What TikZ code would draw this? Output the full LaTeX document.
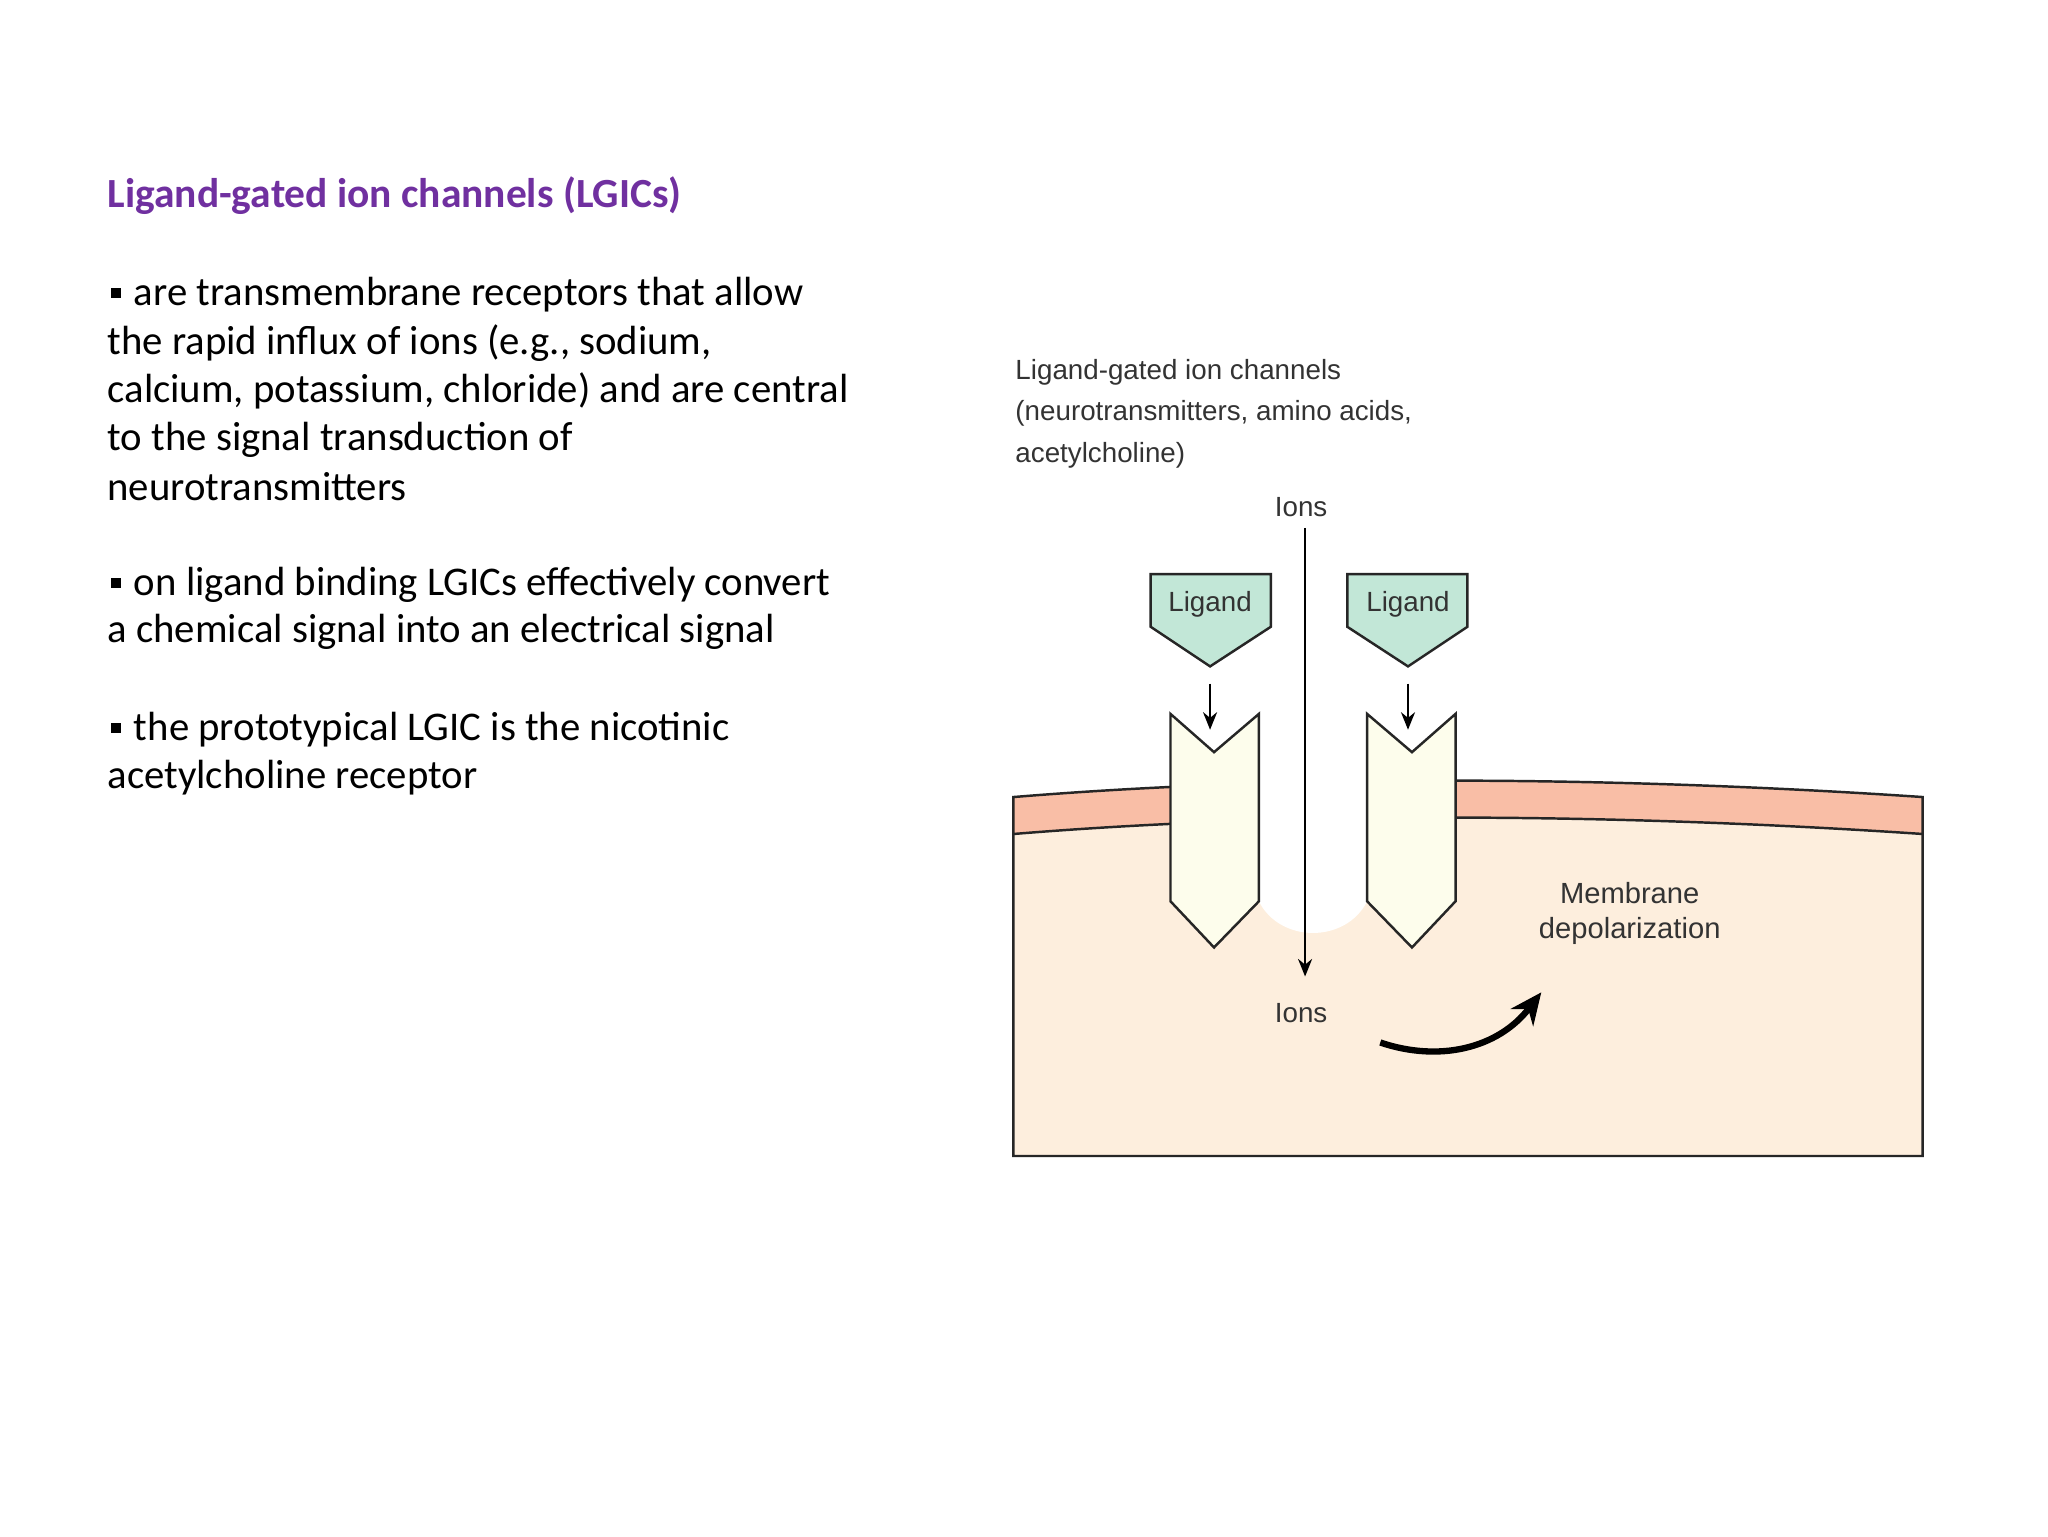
\documentclass[tikz,border=0pt]{standalone}
\usepackage{fontspec}
\setmainfont{Carlito}
\newfontfamily\arial{Liberation Sans}
\usetikzlibrary{arrows.meta}
\definecolor{ttl}{HTML}{7030A0}
\definecolor{pinkband}{HTML}{F9BEA6}
\definecolor{cyto}{HTML}{FDEEDD}
\definecolor{subu}{HTML}{FDFDEC}
\definecolor{lig}{HTML}{C2E7D7}
\definecolor{dtext}{HTML}{333333}
\tikzset{
 body/.style={anchor=west,inner sep=0pt,font=\fontsize{11.6}{14}\selectfont},
 dlab/.style={inner sep=0pt,text=dtext,font=\arial\fontsize{7.9}{9}\selectfont},
 bul/.style={fill=black,minimum size=0.1cm,inner sep=0pt},
 outl/.style={draw=black!85,line width=0.7pt},
 arr/.style={-{Stealth[length=5pt,width=4pt]},line width=0.6pt}
}
\begin{document}
\begin{tikzpicture}[x=0.0132cm,y=-0.0132cm]
\useasboundingbox (0,0) rectangle (1552,1164);
\fill[white] (0,0) rectangle (1552,1164);
% left text
\node[anchor=west,inner sep=0pt,text=ttl,font=\bfseries\fontsize{11.8}{14}\selectfont] (title) at (81,148) {Ligand-gated ion channels (LGICs)};
\node[bul] (b1) at (88,222) {};
\node[body] (l1) at (101,223) {are transmembrane receptors that allow};
\node[body] (l2) at (81,260) {the rapid influx of ions (e.g., sodium,};
\node[body] (l3) at (81,296) {calcium, potassium, chloride) and are central};
\node[body] (l4) at (81,333) {to the signal transduction of};
\node[body] (l5) at (81,369) {neurotransmitters};
\node[bul] (b2) at (88,442) {};
\node[body] (m1) at (101,443) {on ligand binding LGICs effectively convert};
\node[body] (m2) at (81,479) {a chemical signal into an electrical signal};
\node[bul] (b3) at (88,552) {};
\node[body] (n1) at (101,553) {the prototypical LGIC is the nicotinic};
\node[body] (n2) at (81,589) {acetylcholine receptor};
% diagram
\node[dlab,anchor=west] (h1) at (769,282) {Ligand-gated ion channels};
\node[dlab,anchor=west] (h2) at (769,313) {(neurotransmitters, amino acids,};
\node[dlab,anchor=west] (h3) at (769,345) {acetylcholine)};
% cell
\fill[cyto] (768,604) .. controls (1000,585) and (1250,590) .. (1457,604) -- (1457,876) -- (768,876) -- cycle;
\fill[pinkband] (768,604) .. controls (1000,585) and (1250,590) .. (1457,604) -- (1457,632) .. controls (1250,618) and (1000,613) .. (768,632) -- cycle;
\draw[outl] (768,604) .. controls (1000,585) and (1250,590) .. (1457,604) -- (1457,876) -- (768,876) -- cycle;
\draw[outl] (1457,632) .. controls (1250,618) and (1000,613) .. (768,632);
% channel pore
\fill[white] (954,590) -- (954,683) .. controls (970,715) and (1020,715) .. (1036,683) -- (1036,590) -- cycle;
% subunits
\draw[outl,fill=subu] (887,541) -- (920,570) -- (954,541) -- (954,683) -- (920,718) -- (887,683) -- cycle;
\draw[outl,fill=subu] (1036,541) -- (1070,570) -- (1103,541) -- (1103,683) -- (1070,718) -- (1036,683) -- cycle;
% ligands
\draw[outl,fill=lig] (872,435) -- (963,435) -- (963,475) -- (917,505) -- (872,475) -- cycle;
\draw[outl,fill=lig] (1021,435) -- (1112,435) -- (1112,475) -- (1067,505) -- (1021,475) -- cycle;
\node[dlab] (lg1) at (917,458) {Ligand};
\node[dlab] (lg2) at (1067,458) {Ligand};
\coordinate (s1) at (917,518); \coordinate (e1) at (917,553);
\coordinate (s2) at (1067,518); \coordinate (e2) at (1067,553);
\draw[arr] (s1) -- (e1);
\draw[arr] (s2) -- (e2);
\node[dlab] (ionT) at (986,384) {Ions};
\node[dlab] (ionB) at (986,768) {Ions};
\coordinate (is) at (989,400); \coordinate (ie) at (989,740);
\draw[arr] (is) -- (ie);
\node[dlab,align=center,font=\arial\fontsize{8.3}{10}\selectfont] (dep) at (1235,692) {Membrane\\depolarization};
\coordinate (cs) at (1046,790); \coordinate (ce) at (1168,752);
\draw[-{Stealth[length=9pt,width=8pt]},line width=1.8pt] (cs) .. controls (1090,805) and (1135,795) .. (ce);
\end{tikzpicture}
\end{document}
